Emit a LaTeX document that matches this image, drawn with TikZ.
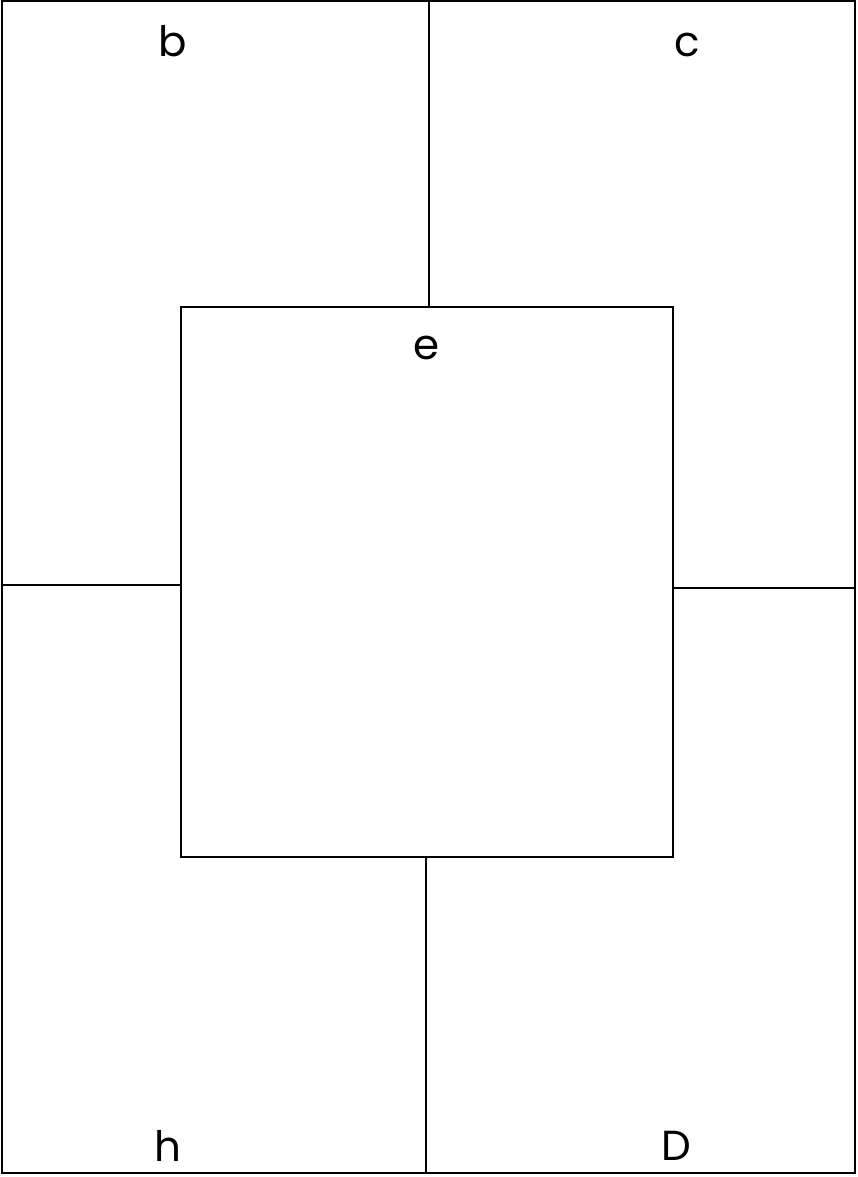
\documentclass[tikz,border=0pt]{standalone}
\usepackage{fontspec}
\setmainfont{Poppins}
\usetikzlibrary{positioning}
\begin{document}
\begin{tikzpicture}[x=1pt, y=-1pt,
  wall/.style={line width=2pt, black},
  room/.style={draw, line width=2pt, inner sep=0pt, minimum width=492pt, minimum height=550pt},
  tag/.style={font=\fontsize{42}{42}\selectfont, anchor=base}]
\useasboundingbox (0,0) rectangle (857,1177);
% outer frame
\draw[wall] (2,1) rectangle (855,1173);
% centre box
\node[room] (centre) at (427,582) {};
% dividers
\coordinate (topmid) at (429,1);
\coordinate (botmid) at (426,1173);
\coordinate (leftmid) at (2,585);
\coordinate (rightmid) at (855,588);
\draw[wall] (topmid) -- (topmid |- centre.north);
\draw[wall] (botmid) -- (botmid |- centre.south);
\draw[wall] (leftmid) -- (leftmid -| centre.west);
\draw[wall] (rightmid) -- (rightmid -| centre.east);
% labels
\node[tag] (lb) at (173,57) {b};
\node[tag] (lc) at (687,57) {c};
\node[tag] (le) at (427,359) {e};
\node[tag] (lh) at (168,1161) {h};
\node[tag] (lD) at (676,1160) {D};
\end{tikzpicture}
\end{document}
